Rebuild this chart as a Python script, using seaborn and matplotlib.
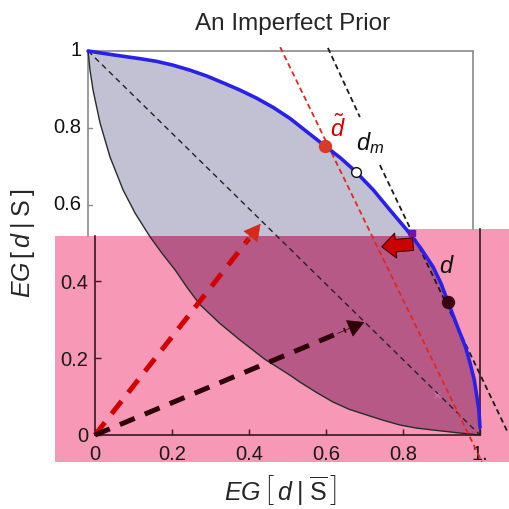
import numpy as np
import pandas as pd
import matplotlib.pyplot as plt
import seaborn as sns
from matplotlib.patches import Polygon

# curve (x = EG[d|S-bar], y = EG[d|S])
upper_x = [-0.018, 0.047, 0.117, 0.160, 0.203, 0.247, 0.290, 0.333, 0.377, 0.420, 0.463, 0.507,
           0.550, 0.597, 0.637, 0.675, 0.723, 0.766, 0.810, 0.845, 0.878, 0.899, 0.917, 0.945,
           0.962, 0.974, 0.985, 0.992, 0.997, 1.000, 1.000]
upper_y = [1.000, 0.990, 0.980, 0.973, 0.963, 0.950, 0.935, 0.917, 0.898, 0.877, 0.853, 0.824,
           0.790, 0.753, 0.722, 0.688, 0.638, 0.586, 0.534, 0.488, 0.438, 0.394, 0.346, 0.273,
           0.230, 0.188, 0.144, 0.099, 0.066, 0.039, 0.000]
lower_x = [-0.018, -0.013, -0.005, 0.013, 0.039, 0.073, 0.104, 0.143, 0.175, 0.208, 0.240,
           0.273, 0.325, 0.377, 0.440, 0.506, 0.532, 0.575, 0.618, 0.660, 0.706, 0.750,
           0.792, 0.835, 0.878, 0.940, 1.000]
lower_y = [1.000, 0.950, 0.898, 0.813, 0.724, 0.638, 0.578, 0.516, 0.472, 0.430, 0.383,
           0.339, 0.290, 0.247, 0.198, 0.156, 0.138, 0.111, 0.086, 0.067, 0.052, 0.038,
           0.026, 0.018, 0.013, 0.006, 0.000]

diag_x = [-0.018, 1.0]
diag_y = [1.0, 0.0]
red_line_x = [0.481, 1.005]
red_line_y = [1.010, -0.070]
tangent_x = [[0.605, 0.688], [0.740, 1.073]]
tangent_y = [[1.008, 0.828], [0.703, 0.005]]

red_arrow_tip = (0.43, 0.55)
dark_arrow_tip = (0.70, 0.294)

d_tilde = (0.597, 0.753)
d_m = (0.678, 0.685)
d_pt = (0.917, 0.346)
square_pt = (0.823, 0.526)

x_ticks = [0, 0.2, 0.4, 0.6, 0.8, 1.0]
x_ticklabels = ["0", "0.2", "0.4", "0.6", "0.8", "1."]
y_ticks_low = [0, 0.2, 0.4]
y_ticklabels_low = ["0", "0.2", "0.4"]
y_ticks_up = [1.0, 0.8, 0.6]
y_ticklabels_up = ["1", "0.8", "0.6"]

sns.set_theme(style="white")
plt.rcParams['font.family'] = ['Liberation Sans', 'DejaVu Sans']
plt.rcParams['mathtext.fontset'] = 'custom'
plt.rcParams['mathtext.rm'] = 'Liberation Sans'
plt.rcParams['mathtext.it'] = 'Liberation Sans:italic'

W = 509.0
fig = plt.figure(figsize=(5.09, 5.09), dpi=100)
ax = fig.add_axes([95 / W, (W - 435) / W, 385 / W, 384 / W])
ax.set_xlim(0, 1)
ax.set_ylim(0, 1)
ax.patch.set_alpha(0)

pink = "#f698b6"
lav = "#c1c1d3"
purp = "#b75987"
dark = "#3a1424"

# leaf shaped region
leaf_x = upper_x + lower_x[::-1]
leaf_y = upper_y + lower_y[::-1]
ax.fill(leaf_x, leaf_y, color=lav, lw=0, zorder=0.3, clip_on=False)

# pink overlay block
pink_poly = Polygon([(-0.104, -0.070), (1.08, -0.070), (1.08, 0.536), (0.813, 0.536),
                     (0.813, 0.518), (-0.104, 0.518)], closed=True, fc=pink, ec="none",
                    zorder=0.4, clip_on=False)
ax.add_patch(pink_poly)
inner = ax.fill(leaf_x, leaf_y, color=purp, lw=0, zorder=0.6)[0]
inner.set_clip_path(pink_poly)

# frames: upper (grey) and lower (dark)
grey = "#8a8a8a"
ax.plot([-0.018, -0.018], [0.518, 1.0], color=grey, lw=1.2, clip_on=False, zorder=1)
ax.plot([-0.018, 0.982], [1.0, 1.0], color=grey, lw=1.2, clip_on=False, zorder=1)
ax.plot([0.982, 0.982], [0.536, 1.0], color=grey, lw=1.2, clip_on=False, zorder=1)
for yt, lab in zip(y_ticks_up, y_ticklabels_up):
    if yt < 1:
        ax.plot([-0.018, -0.008], [yt, yt], color=grey, lw=1, clip_on=False, zorder=1)
    ax.text(-0.036, yt, lab, ha="right", va="center", fontsize=14.5, color="#111111")

for side in ["left", "bottom", "right"]:
    ax.spines[side].set_color(dark)
    ax.spines[side].set_linewidth(1.2)
ax.spines["top"].set_visible(False)
ax.spines["left"].set_bounds(0, 0.518)
ax.spines["right"].set_bounds(0, 0.536)
ax.set_xticks(x_ticks)
ax.set_xticklabels(x_ticklabels)
ax.set_yticks(y_ticks_low)
ax.set_yticklabels(y_ticklabels_low)
ax.tick_params(direction="in", length=4, width=1, color=dark, labelsize=14.5,
               labelcolor="#1a1a1a", left=True, bottom=True)
ax.tick_params(axis="x", pad=7)
ax.tick_params(axis="y", pad=5)

# curves
sns.lineplot(x=lower_x, y=lower_y, sort=False, color="#2a2a2a", lw=1, ax=ax, zorder=2,
             clip_on=False)
ax.plot(diag_x, diag_y, color="#222222", lw=1, dashes=(4, 3), zorder=2, clip_on=False)
ax.plot(red_line_x, red_line_y, color="#e0281e", lw=1.3, dashes=(3, 2), zorder=3, clip_on=False)
for tx, ty in zip(tangent_x, tangent_y):
    ax.plot(tx, ty, color="#1a1a1a", lw=1.3, dashes=(3, 2), zorder=3, clip_on=False)
sns.lineplot(x=upper_x, y=upper_y, sort=False, color="#2b20e8", lw=2.6, ax=ax, zorder=4,
             clip_on=False)

# dashed vectors from the origin
def dashed_arrow(tip, color, head_color):
    tx, ty = tip
    ax.plot([0, tx * 0.93], [0, ty * 0.93], color=color, lw=3.6, dashes=(3.2, 2.2),
            solid_capstyle="butt", dash_capstyle="butt", zorder=5, clip_on=False)
    ax.annotate("", xy=(tx, ty), xytext=(tx * 0.9, ty * 0.9),
                arrowprops=dict(arrowstyle="-|>,head_length=0.55,head_width=0.3",
                                fc=head_color, ec=head_color, lw=0.5,
                                shrinkA=0, shrinkB=0, mutation_scale=20),
                zorder=6)

dashed_arrow(red_arrow_tip, "#d00000", "#d42a1a")
dashed_arrow(dark_arrow_tip, "#2e0008", "#2e0008")

# block arrow near the tangent point
ax.annotate("", xy=(0.745, 0.49), xytext=(0.826, 0.497),
            arrowprops=dict(arrowstyle="simple,head_length=0.5,head_width=0.9,tail_width=0.45",
                            fc="#cc0000", ec="#4a0000", lw=0.8, mutation_scale=20,
                            shrinkA=0, shrinkB=0),
            zorder=7)

# points
ax.plot(*square_pt, marker="s", ms=5, color="#7a10a8", zorder=8)
ax.plot(*d_tilde, marker="o", ms=8.6, color="#d83a28", mec="#d83a28", zorder=8)
ax.plot(*d_m, marker="o", ms=7, mfc="white", mec="#111111", mew=1, zorder=8)
ax.plot(*d_pt, marker="o", ms=8.6, color="#3a0010", zorder=8)
ax.plot(0.888, 0.104, marker="x", ms=4, color="#c070a8", mew=1, zorder=8)

ax.text(0.630, 0.799, r"$\tilde{d}$", color="#d00000", fontsize=17, ha="center", va="center", zorder=9)
ax.text(0.715, 0.760, r"$d_m$", color="#111111", fontsize=17, ha="center", va="center", zorder=9)
ax.text(0.914, 0.437, r"$d$", color="#111111", fontsize=17, ha="center", va="center", zorder=9)

fig.text(293 / W, 1 - 24 / W, "An Imperfect Prior", ha="center", va="center", fontsize=17.5)
fig.text(280 / W, 1 - 490 / W, r"$EG\,\left[\,d\;|\;\overline{\mathrm{S}}\,\right]$",
         ha="center", va="center", fontsize=18)
fig.text(23 / W, 1 - 243 / W, r"$EG\,\left[\,d\;|\;\mathrm{S}\,\right]$", rotation=90,
         ha="center", va="center", fontsize=18)

fig.savefig("out.png", dpi=100)
